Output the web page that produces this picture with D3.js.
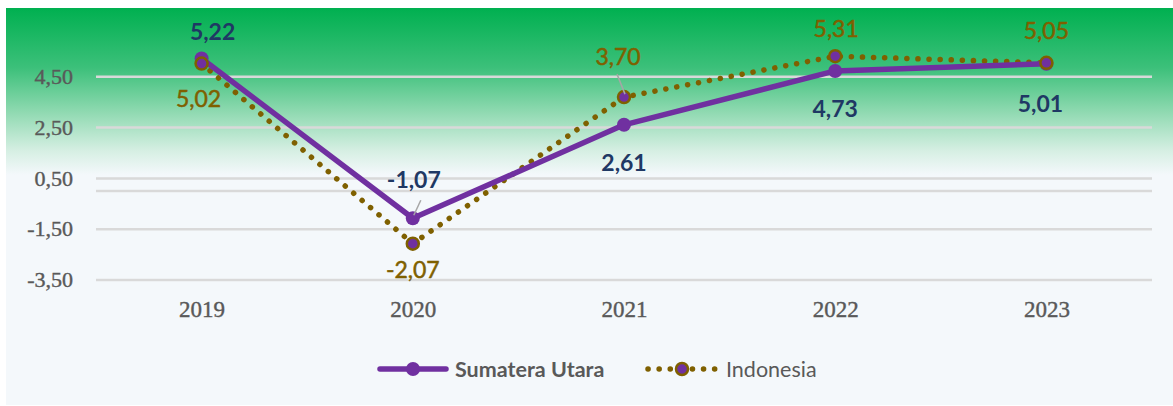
<!DOCTYPE html>
<html>
<head>
<meta charset="utf-8">
<script src="https://cdn.jsdelivr.net/npm/d3@7"></script>
<style>
  html, body { margin: 0; padding: 0; background: #fff; }
  svg { display: block; }
</style>
</head>
<body>
<div id="chart"></div>
<script>
// data
var years = ["2019", "2020", "2021", "2022", "2023"]
var sumut = [5.22, -1.07, 2.61, 4.73, 5.01]
var indonesia = [5.02, -2.07, 3.70, 5.31, 5.05]
var yTicks = [4.5, 2.5, 0.5, -1.5, -3.5]

var width = 1173, height = 406
var purple = "#7030a0", brown = "#7f6000", navy = "#1f3864", grey = "#595959"

var svg = d3.select("#chart").append("svg")
    .attr("width", width)
    .attr("height", height)

var defs = svg.append("defs")
var grad = defs.append("linearGradient")
    .attr("id", "bg")
    .attr("x1", 0).attr("y1", 0).attr("x2", 0).attr("y2", 1)
grad.append("stop").attr("offset", "0%").attr("stop-color", "#00b050")
grad.append("stop").attr("offset", "15%").attr("stop-color", "#3cc07a")
grad.append("stop").attr("offset", "26%").attr("stop-color", "#8ed9b0")
grad.append("stop").attr("offset", "36%").attr("stop-color", "#d6efe3")
grad.append("stop").attr("offset", "42%").attr("stop-color", "#f4f8fb")
grad.append("stop").attr("offset", "100%").attr("stop-color", "#f4f8fb")

svg.append("rect")
    .attr("x", 6).attr("y", 8)
    .attr("width", width - 6).attr("height", 397)
    .attr("fill", "url(#bg)")

var x = d3.scalePoint()
    .domain(years)
    .range([96, 1152])
    .padding(0.5)

var y = d3.scaleLinear()
    .domain([-3.5, 6.5])
    .range([280, 26])

var fmt = function(v) { return d3.format(".2f")(v).replace(".", ",").replace("\u2212", "-") }

// gridlines
svg.append("g")
    .selectAll("line")
    .data(yTicks.concat([0]))
    .enter().append("line")
    .attr("x1", 96).attr("x2", 1152)
    .attr("y1", d => y(d)).attr("y2", d => y(d))
    .attr("stroke", "#d9d9d9")
    .attr("stroke-width", 2.5)

// y axis labels
var yAxis = d3.axisLeft(y).tickValues(yTicks).tickFormat(fmt).tickSize(0).tickPadding(0)
var ya = svg.append("g").attr("transform", "translate(73,0)").call(yAxis)
ya.select(".domain").remove()
ya.selectAll("text")
    .attr("font-family", "Liberation Serif, serif")
    .attr("font-size", 22)
    .attr("fill", grey)
    .attr("stroke", grey)
    .attr("stroke-width", 0.4)
    .attr("dy", "0.3em")
    .attr("x", 0)

// x axis labels
var xAxis = d3.axisBottom(x).tickSize(0).tickPadding(0)
var xa = svg.append("g").attr("transform", "translate(0,301)").call(xAxis)
xa.select(".domain").remove()
xa.selectAll("text")
    .attr("font-family", "Liberation Serif, serif")
    .attr("font-size", 23)
    .attr("fill", grey)
    .attr("stroke", grey)
    .attr("stroke-width", 0.4)
    .attr("dy", "0.71em")

var line = d3.line()
    .x((d, i) => x(years[i]))
    .y(d => y(d))

// Indonesia dotted
svg.append("path")
    .datum(indonesia)
    .attr("d", line)
    .attr("fill", "none")
    .attr("stroke", brown)
    .attr("stroke-width", 5.5)
    .attr("stroke-linecap", "round")
    .attr("stroke-dasharray", "0.1 11")

// Sumut solid
svg.append("path")
    .datum(sumut)
    .attr("d", line)
    .attr("fill", "none")
    .attr("stroke", purple)
    .attr("stroke-width", 5.5)
    .attr("stroke-linejoin", "round")

svg.append("g").selectAll("circle")
    .data(sumut)
    .enter().append("circle")
    .attr("cx", (d, i) => x(years[i]))
    .attr("cy", d => y(d))
    .attr("r", 7)
    .attr("fill", purple)

svg.append("g").selectAll("circle")
    .data(indonesia)
    .enter().append("circle")
    .attr("cx", (d, i) => x(years[i]))
    .attr("cy", d => y(d))
    .attr("r", 6)
    .attr("fill", purple)
    .attr("stroke", brown)
    .attr("stroke-width", 2.5)

// data labels (offsets relative to point)
var sumutOff = [[11, -19], [1, -30], [0, 46], [0, 46], [-6, 48]]
var indoOff = [[-3, 43], [0, 34], [-6, -32], [1, -19], [0, -24]]

// leader lines
var leaders = [
    {yr: "2020", v: sumut[1], dx1: 8, dy1: -18},
    {yr: "2021", v: indonesia[2], dx1: -7, dy1: -23}
]
svg.append("g").selectAll("line")
    .data(leaders)
    .enter().append("line")
    .attr("x1", d => x(d.yr) + d.dx1)
    .attr("y1", d => y(d.v) + d.dy1)
    .attr("x2", d => x(d.yr) + 1)
    .attr("y2", d => y(d.v) - 3)
    .attr("stroke", "#a6a6a6")
    .attr("stroke-width", 1.5)

svg.append("g").selectAll("text")
    .data(sumut)
    .enter().append("text")
    .attr("x", (d, i) => x(years[i]) + sumutOff[i][0])
    .attr("y", (d, i) => y(d) + sumutOff[i][1])
    .attr("text-anchor", "middle")
    .attr("font-family", "Lato, sans-serif")
    .attr("font-weight", "bold")
    .attr("font-size", 23)
    .attr("fill", navy)
    .text(fmt)

svg.append("g").selectAll("text")
    .data(indonesia)
    .enter().append("text")
    .attr("x", (d, i) => x(years[i]) + indoOff[i][0])
    .attr("y", (d, i) => y(d) + indoOff[i][1])
    .attr("text-anchor", "middle")
    .attr("font-family", "Lato, sans-serif")
    .attr("font-size", 23)
    .attr("fill", brown)
    .attr("stroke", brown)
    .attr("stroke-width", 0.5)
    .text(fmt)

// legend
var lg = svg.append("g").attr("transform", "translate(0,369)")
lg.append("line")
    .attr("x1", 380).attr("x2", 446)
    .attr("stroke", purple).attr("stroke-width", 5.5).attr("stroke-linecap", "round")
lg.append("circle").attr("cx", 413).attr("r", 7).attr("fill", purple)
lg.append("text")
    .attr("x", 455).attr("dy", "0.35em")
    .attr("font-family", "Lato, sans-serif")
    .attr("font-weight", "bold")
    .attr("font-size", 21.5)
    .attr("fill", grey)
    .text("Sumatera Utara")

lg.append("line")
    .attr("x1", 648).attr("x2", 716)
    .attr("stroke", brown).attr("stroke-width", 5.5).attr("stroke-linecap", "round")
    .attr("stroke-dasharray", "0.1 11")
lg.append("circle").attr("cx", 682).attr("r", 6)
    .attr("fill", purple).attr("stroke", brown).attr("stroke-width", 2.5)
lg.append("text")
    .attr("x", 726).attr("dy", "0.35em")
    .attr("font-family", "Lato, sans-serif")
    .attr("font-size", 21.5)
    .attr("fill", grey)
    .text("Indonesia")
</script>
</body>
</html>
